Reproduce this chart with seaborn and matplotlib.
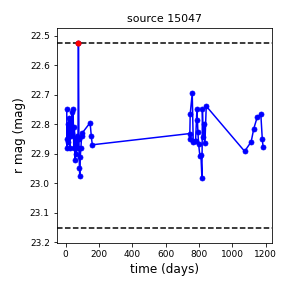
import matplotlib
matplotlib.use("Agg")
import matplotlib.pyplot as plt
import pandas as pd
import seaborn as sns

# light curve values
days = [7, 8, 9, 13, 17, 21, 25, 29, 33, 37, 41, 45, 49, 53, 57, 61, 65, 70, 74,
        77, 80, 83, 85, 88, 92, 96, 100, 147, 154, 160,
        743, 744, 747, 759, 765, 773, 779, 787, 790, 793, 797, 805, 811, 817,
        820, 825, 829, 835, 843,
        1073, 1112, 1128, 1148, 1170, 1179, 1184]
rmag = [22.75, 22.85, 22.88, 22.80, 22.86, 22.78, 22.88, 22.79, 22.84, 22.76,
        22.83, 22.75, 22.88, 22.81, 22.92, 22.85, 22.90, 22.84, 22.88,
        22.524, 22.85, 22.95, 22.975, 22.91, 22.88, 22.84, 22.83, 22.795, 22.84, 22.87,
        22.832, 22.849, 22.764, 22.696, 22.860, 22.858, 22.858, 22.750, 22.786,
        22.826, 22.866, 22.909, 22.905, 22.981, 22.750, 22.845, 22.798, 22.865, 22.739,
        22.892, 22.860, 22.815, 22.777, 22.766, 22.852, 22.879]

flare_day = [77]
flare_mag = [22.524]

upper_line = 22.524
lower_line = 23.152

df = pd.DataFrame({"time": days, "mag": rmag})

fig = plt.figure(figsize=(4, 4), dpi=72)
ax = fig.add_axes([0.197, 0.156, 0.748, 0.747])

sns.lineplot(data=df, x="time", y="mag", marker="o", color="blue",
             markeredgecolor="blue", markersize=5, sort=False, ax=ax)
sns.scatterplot(x=flare_day, y=flare_mag, color="red", s=30, edgecolor="red",
                zorder=5, ax=ax)

ax.axhline(upper_line, color="k", ls="--")
ax.axhline(lower_line, color="k", ls="--")

ax.set_xlim(-53, 1238)
ax.set_ylim(23.203, 22.474)
ax.set_xticks([0, 200, 400, 600, 800, 1000, 1200])
ax.set_yticks([22.5, 22.6, 22.7, 22.8, 22.9, 23.0, 23.1, 23.2])
ax.tick_params(labelsize=9)

ax.set_xlabel("time (days)", fontsize=12)
ax.set_ylabel("r mag (mag)", fontsize=12)
ax.set_title("source 15047", fontsize=11)

fig.savefig("out.png", dpi=72)
